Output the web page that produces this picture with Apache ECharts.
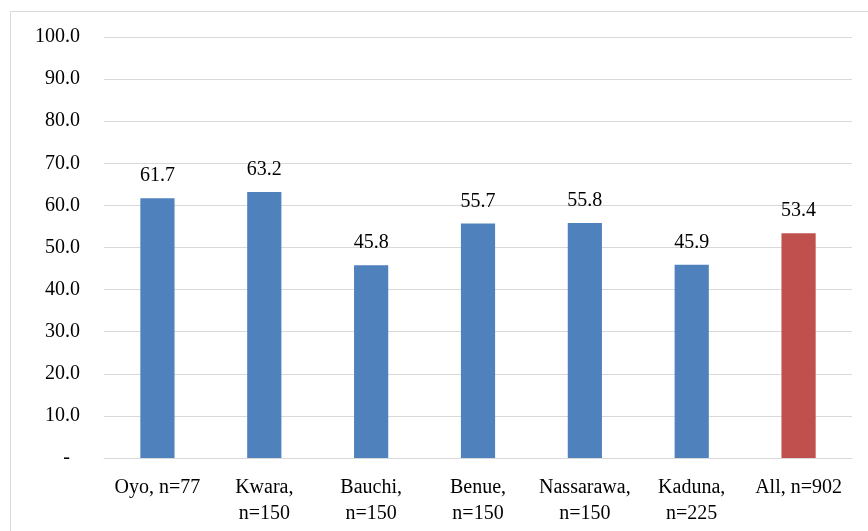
<!DOCTYPE html>
<html>
<head>
<meta charset="utf-8">
<script src="https://cdn.jsdelivr.net/npm/echarts@6/dist/echarts.min.js"></script>
<style>
  html, body { margin: 0; padding: 0; background: #fff; }
  #chart { width: 868px; height: 531px; }
</style>
</head>
<body>
<div id="chart"></div>
<script>
// Share by state, with the pooled total shown last
const categories = ['Oyo, n=77', 'Kwara,\nn=150', 'Bauchi,\nn=150', 'Benue,\nn=150', 'Nassarawa,\nn=150', 'Kaduna,\nn=225', 'All, n=902'];
const values = [61.7, 63.2, 45.8, 55.7, 55.8, 45.9, 53.4];
const barColors = ['#4F81BD', '#4F81BD', '#4F81BD', '#4F81BD', '#4F81BD', '#4F81BD', '#C0504D'];

const font = '"Liberation Serif", "Times New Roman", serif';
const chart = echarts.init(document.getElementById('chart'), null, { renderer: 'canvas' });

chart.setOption({
  animation: false,
  backgroundColor: '#ffffff',
  graphic: [{
    type: 'rect',
    shape: { x: 10.5, y: 11.5, width: 880, height: 540 },
    style: { fill: 'none', stroke: '#d9d9d9', lineWidth: 1 },
    silent: true
  }],
  grid: { left: 104, right: 16, top: 37, bottom: 73 },
  xAxis: {
    type: 'category',
    data: categories,
    axisTick: { show: false },
    axisLine: { show: true, lineStyle: { color: '#d9d9d9', width: 1 } },
    axisLabel: {
      color: '#000', fontFamily: font, fontSize: 20, margin: 17, lineHeight: 26, interval: 0
    }
  },
  yAxis: {
    type: 'value',
    min: 0, max: 100, interval: 10,
    axisLine: { show: false },
    axisTick: { show: false },
    splitLine: { lineStyle: { color: '#d9d9d9', width: 1 } },
    axisLabel: {
      color: '#000', fontFamily: font, fontSize: 20, margin: 24,
      // zero is shown as an accounting-style dash, padded like the number format
      formatter: v => v === 0 ? '-\u00a0\u00a0' : v.toFixed(1)
    }
  },
  series: [{
    type: 'bar',
    data: values.map((v, i) => ({ value: v, itemStyle: { color: barColors[i] } })),
    barWidth: '32%',
    label: {
      show: true, position: 'top', distance: 12,
      color: '#000', fontFamily: font, fontSize: 20,
      formatter: p => p.value.toFixed(1)
    }
  }]
});
</script>
</body>
</html>
